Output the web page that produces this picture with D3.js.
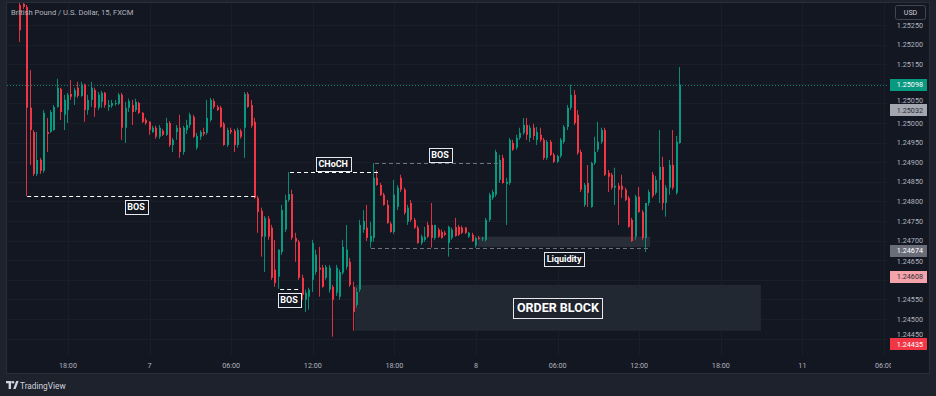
<!DOCTYPE html>
<html><head><meta charset="utf-8">
<script src="https://cdn.jsdelivr.net/npm/d3@7"></script>
<style>html,body{margin:0;padding:0;background:#1e222d;}svg{display:block;font-family:Roboto,"Open Sans",sans-serif;}</style>
</head><body><svg id="c" width="936" height="396"></svg>
<script>
// ---------- DATA ----------
const firstIndex = -14; // bar index of first candle (index 0 = 18:00 on day 6)
const opens = [
1.25301,1.25304,1.25296,1.25039,1.24977,1.24870,1.24906,1.24878,1.24977,1.24977,
1.24982,1.25041,1.25087,1.25021,1.25033,1.25074,1.25067,1.25090,1.25069,1.25098,
1.25033,1.25059,1.25084,1.25039,1.25054,1.25077,1.25041,1.25044,1.25049,1.25049,
1.25072,1.24988,1.25039,1.25046,1.25033,1.25051,1.25026,1.25008,1.25003,1.24977,
1.24988,1.24965,1.24980,1.24970,1.25000,1.24944,1.24977,1.24988,1.24926,1.24982,
1.24995,1.25016,1.24937,1.24965,1.24977,1.24975,1.25008,1.25056,1.25041,1.25039,
1.24998,1.24944,1.24982,1.24980,1.24944,1.24980,1.24988,1.25074,1.25046,1.25003,
1.24809,1.24776,1.24710,1.24756,1.24733,1.24626,1.24608,1.24671,1.24728,1.24804,
1.24819,1.24707,1.24697,1.24605,1.24549,1.24557,1.24600,1.24620,1.24631,1.24631,
1.24605,1.24575,1.24582,1.24567,1.24557,1.24618,1.24633,1.24646,1.24582,1.24536,
1.24575,1.24728,1.24733,1.24697,1.24707,1.24860,1.24842,1.24817,1.24791,1.24743,
1.24722,1.24786,1.24860,1.24830,1.24748,1.24796,1.24753,1.24733,1.24694,1.24702,
1.24740,1.24740,1.24707,1.24728,1.24722,1.24720,1.24694,1.24707,1.24735,1.24735,
1.24733,1.24733,1.24710,1.24715,1.24687,1.24707,1.24705,1.24702,1.24753,1.24809,
1.24817,1.24855,1.24911,1.24845,1.24847,1.24949,1.24937,1.24962,1.24975,1.24995,
1.24962,1.24988,1.24957,1.24970,1.24957,1.24911,1.24952,1.24919,1.24901,1.24916,
1.24952,1.24990,1.25039,1.25072,1.25021,1.24926,1.24791,1.24847,1.24786,1.24898,
1.24932,1.24952,1.24982,1.24873,1.24868,1.24835,1.24840,1.24840,1.24830,1.24809,
1.24753,1.24710,1.24812,1.24773,1.24707,1.24796,1.24868,1.24822,1.24855,1.24888,
1.24796,1.24835,1.24893,1.24822,1.24949];
const highs = [
1.25306,1.25306,1.25301,1.25135,1.24982,1.24977,1.24911,1.25033,1.25013,1.25033,
1.25046,1.25113,1.25090,1.25072,1.25077,1.25110,1.25090,1.25105,1.25105,1.25100,
1.25072,1.25105,1.25090,1.25079,1.25082,1.25079,1.25059,1.25059,1.25059,1.25077,
1.25077,1.25054,1.25062,1.25059,1.25062,1.25054,1.25028,1.25013,1.25005,1.24993,
1.24993,1.24995,1.24985,1.25013,1.25005,1.24962,1.24995,1.25021,1.24993,1.25008,
1.25026,1.25021,1.24975,1.24982,1.24988,1.25059,1.25064,1.25062,1.25046,1.25044,
1.25003,1.24988,1.24988,1.24985,1.24988,1.24985,1.25079,1.25079,1.25059,1.25013,
1.24814,1.24784,1.24763,1.24763,1.24740,1.24702,1.24677,1.24791,1.24817,1.24875,
1.24830,1.24720,1.24702,1.24613,1.24575,1.24580,1.24702,1.24677,1.24684,1.24638,
1.24638,1.24638,1.24587,1.24638,1.24626,1.24702,1.24740,1.24656,1.24595,1.24580,
1.24753,1.24778,1.24791,1.24748,1.24898,1.24880,1.24847,1.24822,1.24804,1.24748,
1.24855,1.24842,1.24868,1.24835,1.24791,1.24804,1.24758,1.24738,1.24715,1.24735,
1.24748,1.24796,1.24740,1.24733,1.24728,1.24725,1.24738,1.24733,1.24758,1.24740,
1.24738,1.24735,1.24722,1.24720,1.24710,1.24712,1.24710,1.24758,1.24822,1.24830,
1.24932,1.24919,1.24919,1.24860,1.24962,1.24957,1.24970,1.24988,1.25013,1.25013,
1.24995,1.24998,1.24990,1.24988,1.24962,1.24957,1.24957,1.24924,1.24919,1.24962,
1.24995,1.25046,1.25098,1.25084,1.25033,1.24932,1.24847,1.24893,1.24901,1.24965,
1.25003,1.24988,1.24988,1.24880,1.24873,1.24886,1.24847,1.24868,1.24835,1.24814,
1.24758,1.24817,1.24837,1.24778,1.24796,1.24830,1.24875,1.24865,1.24982,1.24914,
1.24842,1.24906,1.24982,1.24967,1.25143];
const lows = [
1.25207,1.25291,1.24814,1.24893,1.24865,1.24865,1.24870,1.24873,1.24926,1.24975,
1.24980,1.25039,1.25008,1.24982,1.25000,1.25059,1.25046,1.25064,1.25067,1.25003,
1.25021,1.25041,1.25016,1.25033,1.25039,1.25039,1.25031,1.25039,1.25044,1.25046,
1.24957,1.24949,1.25028,1.24995,1.25028,1.25023,1.25000,1.24995,1.24970,1.24975,
1.24960,1.24960,1.24967,1.24967,1.24939,1.24926,1.24957,1.24911,1.24919,1.24972,
1.24988,1.24962,1.24932,1.24957,1.24967,1.24970,1.25003,1.25036,1.25031,1.24988,
1.24942,1.24939,1.24972,1.24926,1.24937,1.24960,1.24911,1.25039,1.24988,1.24807,
1.24720,1.24659,1.24620,1.24702,1.24600,1.24582,1.24577,1.24664,1.24722,1.24799,
1.24702,1.24646,1.24600,1.24549,1.24518,1.24524,1.24569,1.24613,1.24557,1.24580,
1.24600,1.24567,1.24455,1.24559,1.24549,1.24613,1.24626,1.24582,1.24470,1.24529,
1.24569,1.24720,1.24699,1.24682,1.24697,1.24840,1.24814,1.24789,1.24743,1.24720,
1.24717,1.24778,1.24824,1.24766,1.24740,1.24748,1.24730,1.24692,1.24689,1.24697,
1.24707,1.24682,1.24702,1.24707,1.24705,1.24712,1.24659,1.24702,1.24710,1.24712,
1.24717,1.24717,1.24707,1.24697,1.24682,1.24702,1.24699,1.24697,1.24748,1.24804,
1.24812,1.24847,1.24845,1.24740,1.24842,1.24929,1.24932,1.24957,1.24970,1.24957,
1.24952,1.24957,1.24944,1.24952,1.24906,1.24906,1.24916,1.24898,1.24898,1.24911,
1.24947,1.24982,1.25033,1.24995,1.24919,1.24824,1.24786,1.24786,1.24784,1.24893,
1.24926,1.24947,1.24865,1.24824,1.24830,1.24791,1.24740,1.24809,1.24801,1.24733,
1.24697,1.24702,1.24771,1.24702,1.24671,1.24789,1.24809,1.24817,1.24796,1.24778,
1.24761,1.24817,1.24830,1.24817,1.24947];
const closes = [
1.25237,1.25296,1.25039,1.24982,1.24870,1.24906,1.24878,1.25026,1.24972,1.25028,
1.25041,1.25090,1.25028,1.25059,1.25072,1.25067,1.25084,1.25069,1.25098,1.25033,
1.25059,1.25090,1.25039,1.25072,1.25077,1.25046,1.25046,1.25051,1.25051,1.25072,
1.24988,1.25039,1.25056,1.25028,1.25054,1.25026,1.25003,1.25000,1.24982,1.24988,
1.24965,1.24988,1.24970,1.25000,1.24944,1.24957,1.24988,1.24926,1.24988,1.24995,
1.25021,1.24965,1.24967,1.24977,1.24972,1.25013,1.25059,1.25041,1.25033,1.24990,
1.24944,1.24982,1.24977,1.24944,1.24982,1.24965,1.25074,1.25041,1.24993,1.24809,
1.24773,1.24710,1.24758,1.24710,1.24605,1.24592,1.24677,1.24778,1.24804,1.24819,
1.24707,1.24697,1.24605,1.24562,1.24567,1.24575,1.24694,1.24664,1.24626,1.24582,
1.24633,1.24631,1.24549,1.24631,1.24620,1.24684,1.24677,1.24587,1.24518,1.24569,
1.24740,1.24750,1.24707,1.24712,1.24860,1.24842,1.24817,1.24791,1.24745,1.24722,
1.24817,1.24835,1.24830,1.24771,1.24784,1.24753,1.24733,1.24694,1.24710,1.24710,
1.24710,1.24707,1.24740,1.24710,1.24707,1.24715,1.24735,1.24728,1.24712,1.24715,
1.24720,1.24720,1.24720,1.24699,1.24707,1.24705,1.24707,1.24753,1.24817,1.24824,
1.24926,1.24906,1.24847,1.24850,1.24957,1.24932,1.24962,1.24975,1.24995,1.24970,
1.24988,1.24967,1.24977,1.24957,1.24911,1.24952,1.24919,1.24901,1.24916,1.24957,
1.24990,1.25039,1.25072,1.25000,1.24924,1.24830,1.24842,1.24822,1.24898,1.24926,
1.24952,1.24982,1.24868,1.24863,1.24835,1.24840,1.24830,1.24830,1.24804,1.24735,
1.24699,1.24812,1.24773,1.24707,1.24796,1.24824,1.24814,1.24855,1.24888,1.24796,
1.24835,1.24893,1.24835,1.24952,1.25098];

const timeTickIndex = [0,24,48,72,96,120,144,168,192,216,240];
const timeTickLabels = ["18:00","7","06:00","12:00","18:00","8","06:00","12:00","18:00","11","06:00"];
const priceTicks = [1.2445,1.2450,1.2455,1.2460,1.2465,1.2470,1.2475,1.2480,1.2485,1.2490,1.2495,1.2500,1.2505,1.2510,1.2515,1.2520,1.2525];
const markerValues = [1.25098,1.25032,1.24674,1.24608,1.24435];

// structure annotations (bar index / price)
const levelNames = ["BOS","BOS","CHoCH","BOS"];
const levelStart = [-12,62.4,65.3,90.3];
const levelEnd = [55,68.2,91.2,127.1];
const levelPrice = [1.24814,1.24577,1.24875,1.24898];
const levelLabelAt = [20,65,78,109.4];
const levelLabelBelow = [true,true,false,false];
const levelMuted = [false,false,false,true];
const liquidityLine = {start:89.1,end:171.2,price:1.24682};
const liquidityZone = {start:120.6,end:171.2,top:1.24710,bottom:1.24684,label:"Liquidity"};
const orderBlock = {start:84.4,end:203.8,top:1.24587,bottom:1.24470,label:"ORDER BLOCK"};

// ---------- DRAW ----------
const svg = d3.select("#c");
const W = 936, H = 396;
const UP = "#089981", DOWN = "#f23645";
const x = d3.scaleLinear().domain([0,240]).range([68,884]);
const y = d3.scaleLinear().domain([1.2445,1.2525]).range([338.6,25]);

svg.append("rect").attr("width",W).attr("height",H).attr("fill","#1e222d");
svg.append("rect").attr("x",6.5).attr("y",2.5).attr("width",923).attr("height",371)
  .attr("fill","#131722").attr("stroke","#2a2e39");

const defs = svg.append("defs");
defs.append("clipPath").attr("id","plot").append("rect").attr("x",7).attr("y",3).attr("width",880).attr("height",352);
defs.append("clipPath").attr("id","taxis").append("rect").attr("x",7).attr("y",355).attr("width",884).attr("height",18);

// grid
const grid = svg.append("g").attr("clip-path","url(#plot)");
grid.selectAll("line.h").data(priceTicks).join("line")
  .attr("x1",7).attr("x2",887).attr("y1",d=>Math.round(y(d))+0.5).attr("y2",d=>Math.round(y(d))+0.5)
  .attr("stroke","#1a1e29");
grid.selectAll("line.v").data(timeTickIndex).join("line")
  .attr("y1",3).attr("y2",355).attr("x1",d=>Math.round(x(d))+0.5).attr("x2",d=>Math.round(x(d))+0.5)
  .attr("stroke","#1a1e29");

const plot = svg.append("g").attr("clip-path","url(#plot)");

// order block & liquidity zone
plot.append("rect").attr("x",x(orderBlock.start)).attr("width",x(orderBlock.end)-x(orderBlock.start))
  .attr("y",y(orderBlock.top)).attr("height",y(orderBlock.bottom)-y(orderBlock.top)).attr("fill","#222831");
plot.append("rect").attr("x",x(liquidityZone.start)).attr("width",x(liquidityZone.end)-x(liquidityZone.start))
  .attr("y",y(liquidityZone.top)).attr("height",y(liquidityZone.bottom)-y(liquidityZone.top)).attr("fill","#282e38");

// last price line
const lastY = Math.round(y(closes[closes.length-1]))+0.5;
plot.append("line").attr("x1",7).attr("x2",887).attr("y1",lastY).attr("y2",lastY)
  .attr("stroke",UP).attr("stroke-dasharray","1,2").attr("opacity",0.8);

// candles
const bars = opens.map((o,k)=>({i:firstIndex+k,o,h:highs[k],l:lows[k],c:closes[k]}));
const cg = plot.append("g");
cg.selectAll("rect.w").data(bars).join("rect")
  .attr("x",d=>Math.round(x(d.i))-1).attr("width",1)
  .attr("y",d=>y(d.h)).attr("height",d=>Math.max(1,y(d.l)-y(d.h)))
  .attr("fill",d=>d.c>=d.o?UP:DOWN).attr("opacity",0.9);
cg.selectAll("rect.b").data(bars).join("rect")
  .attr("x",d=>Math.round(x(d.i))-1).attr("width",2)
  .attr("y",d=>y(Math.max(d.o,d.c))).attr("height",d=>Math.max(1,Math.abs(y(d.o)-y(d.c))))
  .attr("fill",d=>d.c>=d.o?UP:DOWN);

// level lines
levelNames.forEach((n,k)=>{
  const ly = Math.round(y(levelPrice[k]))+0.5;
  plot.append("line").attr("x1",x(levelStart[k])).attr("x2",x(levelEnd[k])).attr("y1",ly).attr("y2",ly)
    .attr("stroke",levelMuted[k]?"#6f7380":"#ffffff").attr("stroke-dasharray","4,3").attr("stroke-width",1);
});
plot.append("line").attr("x1",x(liquidityLine.start)).attr("x2",x(liquidityLine.end))
  .attr("y1",Math.round(y(liquidityLine.price))+0.5).attr("y2",Math.round(y(liquidityLine.price))+0.5)
  .attr("stroke","#6f7380").attr("stroke-dasharray","4,3");

function boxLabel(g,cx,cy,text,size,pad,h,fill){
  const grp = g.append("g");
  const r = grp.append("rect").attr("fill",fill).attr("stroke","#e6e8ee").attr("stroke-width",1);
  const t = grp.append("text").attr("x",cx).attr("y",cy+size*0.36).attr("text-anchor","middle")
    .attr("font-size",size).attr("font-weight","bold").attr("fill","#ffffff").text(text);
  const w = t.node().getComputedTextLength()+pad*2;
  r.attr("x",Math.round(cx-w/2)+0.5).attr("y",Math.round(cy-h/2)+0.5).attr("width",Math.round(w)).attr("height",h);
}
levelNames.forEach((n,k)=>{
  const ly = y(levelPrice[k]);
  const cy = levelLabelBelow[k] ? ly+11 : ly-8;
  boxLabel(svg,x(levelLabelAt[k]),cy,n,9,2.5,14,"#131722");
});
boxLabel(svg,(x(liquidityZone.start)+x(liquidityZone.end))/2,y(liquidityLine.price)+11,liquidityZone.label,9,2.5,14,"#131722");
boxLabel(svg,(x(orderBlock.start)+x(orderBlock.end))/2,(y(orderBlock.top)+y(orderBlock.bottom))/2,orderBlock.label,12.5,3.5,20,"#1f252e");

// price axis labels (ticks hidden under a marker are not drawn)
const visibleTicks = priceTicks.filter(t=>markerValues.every(m=>Math.abs(y(t)-y(m))>=5));
const pa = svg.append("g").attr("font-size",7.2).attr("fill","#b2b5be");
pa.selectAll("text").data(visibleTicks).join("text")
  .attr("x",923).attr("y",d=>{
    // nudge partially covered ticks away from the marker box, as the reference shows them peeking out
    let yy = y(d);
    markerValues.forEach(m=>{const dd=y(d)-y(m); if(Math.abs(dd)<10) yy = y(m)+Math.sign(dd)*10.5;});
    return yy+2.6;
  }).attr("text-anchor","end").text(d=>d3.format(".5f")(d));

// price markers
const mFill = ["#089981","#a4a7b0","#6a6d78","#f5a3aa","#f23645"];
const mText = ["#ffffff","#2a2e39","#ffffff","#2a2e39","#ffffff"];
const mg = svg.append("g");
markerValues.forEach((v,k)=>{
  const cy = y(v);
  mg.append("rect").attr("x",890).attr("y",Math.round(cy-6)).attr("width",37).attr("height",12).attr("fill",mFill[k]);
  mg.append("text").attr("x",923).attr("y",cy+2.6).attr("text-anchor","end").attr("font-size",7.2)
    .attr("fill",mText[k]).text(d3.format(".5f")(v));
});

// USD box
svg.append("rect").attr("x",895.5).attr("y",5.5).attr("width",30).attr("height",14).attr("rx",2)
  .attr("fill","none").attr("stroke","#434651");
svg.append("text").attr("x",910.5).attr("y",15.3).attr("text-anchor","middle").attr("font-size",7)
  .attr("fill","#d1d4dc").text("USD");

// time axis
const ta = svg.append("g").attr("clip-path","url(#taxis)").attr("font-size",7.2).attr("fill","#b2b5be");
ta.selectAll("text").data(timeTickIndex).join("text")
  .attr("x",d=>x(d)).attr("y",367.5).attr("text-anchor","middle").text((d,k)=>timeTickLabels[k]);

// title
svg.append("text").attr("x",11).attr("y",15).attr("font-size",7.6).attr("fill","#b2b5be")
  .text("British Pound / U.S. Dollar, 15, FXCM");

// TradingView logo
const lg = svg.append("g").attr("fill","#d1d4dc");
lg.append("rect").attr("x",6).attr("y",381).attr("width",5.5).attr("height",2.3);
lg.append("rect").attr("x",8.6).attr("y",381).attr("width",2.4).attr("height",8);
lg.append("circle").attr("cx",13).attr("cy",382.3).attr("r",1.3);
lg.append("path").attr("d","M13.2 389 L16.2 381 L18.6 381 L15.6 389 Z");
svg.append("text").attr("x",20).attr("y",388.8).attr("font-size",8.3).attr("fill","#d1d4dc").text("TradingView");
</script></body></html>
